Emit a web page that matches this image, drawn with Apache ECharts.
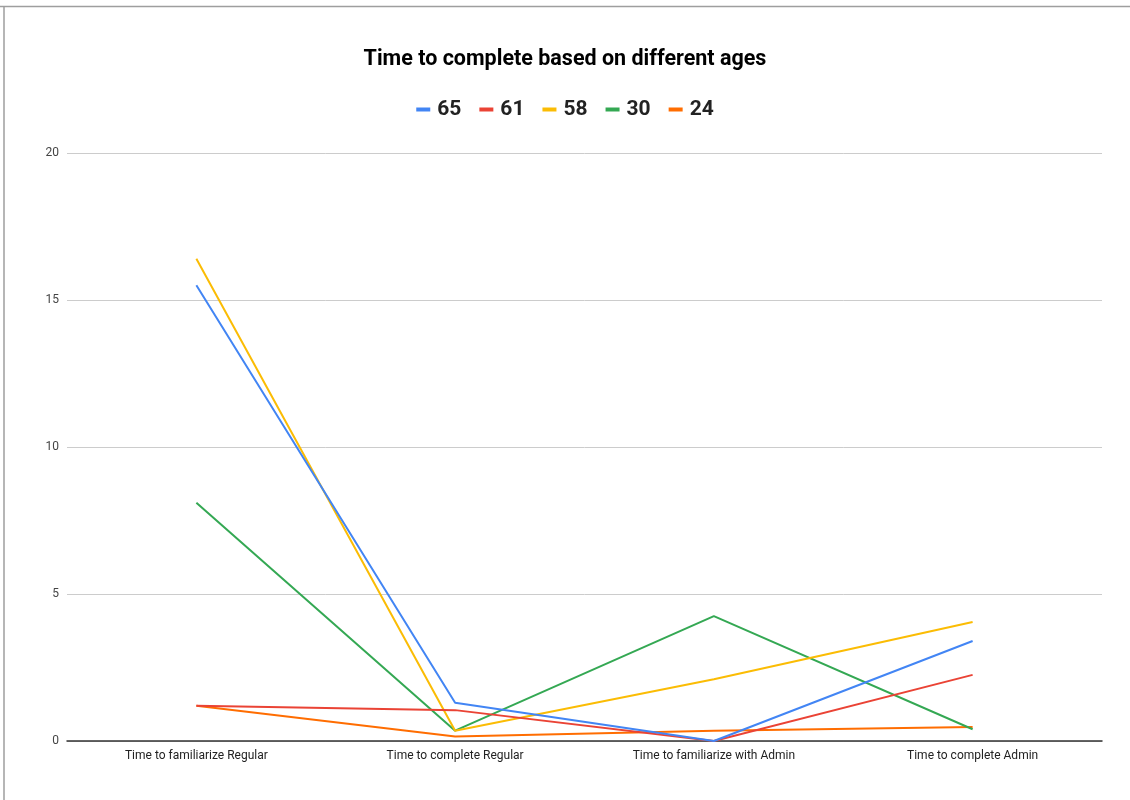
<!DOCTYPE html>
<html>
<head>
<meta charset="utf-8">
<script src="https://cdn.jsdelivr.net/npm/echarts@6/dist/echarts.min.js"></script>
<style>
  html, body { margin: 0; padding: 0; background: #fff; }
  #chart { width: 1130px; height: 800px; }
</style>
</head>
<body>
<div id="chart"></div>
<script>
// Task stages on the x axis
const categories = [
  'Time to familiarize Regular',
  'Time to complete Regular',
  'Time to familiarize with Admin',
  'Time to complete Admin'
];

// Minutes per stage, one array per participant age
const age65 = [15.5, 1.3, 0.0, 3.4];
const age61 = [1.2, 1.05, 0.0, 2.25];
const age58 = [16.4, 0.35, 2.1, 4.05];
const age30 = [8.1, 0.35, 4.25, 0.4];
const age24 = [1.2, 0.15, 0.35, 0.48];

const seriesNames = ['65', '61', '58', '30', '24'];
const seriesData = [age65, age61, age58, age30, age24];
const seriesColors = ['#4285F4', '#EA4335', '#FBBC04', '#34A853', '#FF6D01'];

const yTicks = { min: 0, max: 20, interval: 5 };

const chart = echarts.init(document.getElementById('chart'));

chart.setOption({
  backgroundColor: '#ffffff',
  animation: false,
  textStyle: { fontFamily: 'Roboto, Arial, sans-serif' },
  title: {
    text: 'Time to complete based on different ages',
    left: 'center',
    top: 44,
    textStyle: {
      fontFamily: 'Roboto, Arial, sans-serif',
      fontSize: 21.5,
      fontWeight: 'bold',
      color: '#000000'
    }
  },
  legend: {
    top: 94,
    left: 'center',
    itemWidth: 14,
    itemHeight: 4,
    itemGap: 18,
    icon: 'rect',
    data: seriesNames,
    textStyle: {
      fontFamily: 'Roboto, Arial, sans-serif',
      fontSize: 21,
      fontWeight: 'bold',
      color: '#222222',
      padding: [0, 0, 0, 2]
    }
  },
  grid: { left: 67, right: 28, top: 153, bottom: 59, containLabel: false },
  xAxis: {
    type: 'category',
    data: categories,
    boundaryGap: true,
    axisLine: { lineStyle: { color: '#333333', width: 1.5 } },
    axisTick: { show: false },
    axisLabel: { color: '#222222', fontSize: 12, margin: 9 },
    splitLine: { show: false }
  },
  yAxis: {
    type: 'value',
    min: yTicks.min,
    max: yTicks.max,
    interval: yTicks.interval,
    axisLine: { show: false },
    axisTick: { show: false },
    axisLabel: { color: '#444444', fontSize: 12, margin: 8 },
    splitLine: { lineStyle: { color: '#cccccc', width: 1 } }
  },
  series: seriesNames.map((name, i) => ({
    name: name,
    type: 'line',
    data: seriesData[i],
    showSymbol: false,
    symbol: 'none',
    lineStyle: { width: 2, color: seriesColors[i] },
    itemStyle: { color: seriesColors[i] },
    z: 10 - i
  })),
  graphic: [
    // sheet frame along the top and left edges
    { type: 'line', shape: { x1: 0, y1: 6.5, x2: 1130, y2: 6.5 }, style: { stroke: '#9e9e9e', lineWidth: 1.5 } },
    { type: 'line', shape: { x1: 4, y1: 6.5, x2: 4, y2: 800 }, style: { stroke: '#9e9e9e', lineWidth: 1.5 } }
  ]
});
</script>
</body>
</html>
